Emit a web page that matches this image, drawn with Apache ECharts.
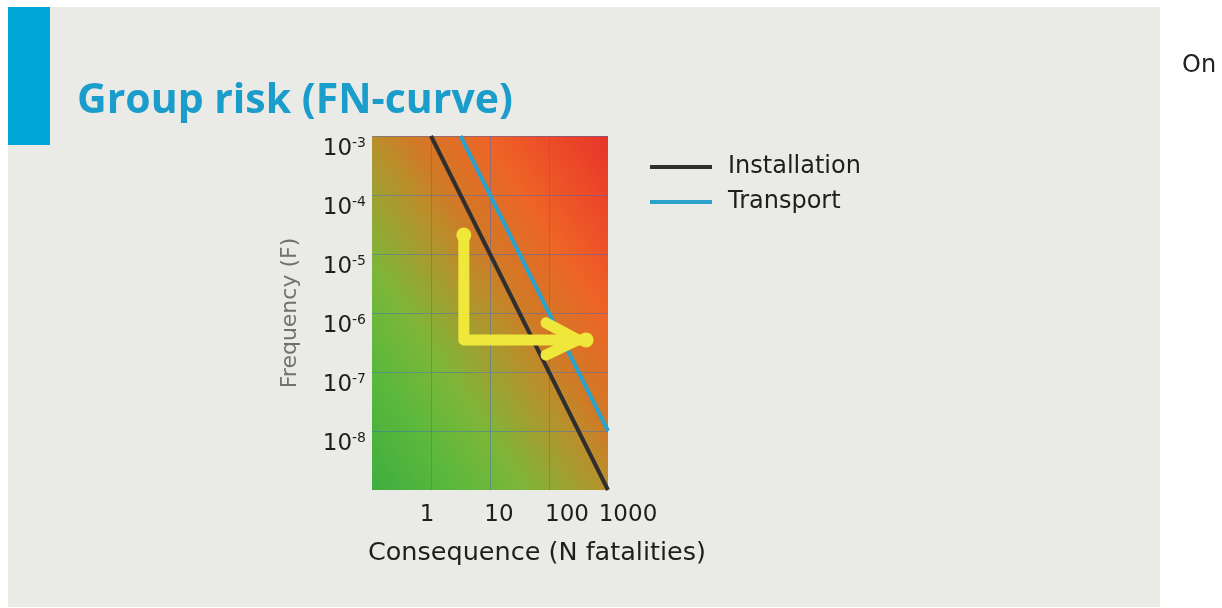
<!DOCTYPE html>
<html>
<head>
<meta charset="utf-8">
<title>Group risk (FN-curve)</title>
<script src="https://cdn.jsdelivr.net/npm/echarts@6/dist/echarts.min.js"></script>
<style>
  html, body { margin: 0; padding: 0; background: #ffffff; }
  #chart { width: 1222px; height: 608px; }
</style>
</head>
<body>
<div id="chart"></div>
<script>
// Consequence ticks (N fatalities) and frequency decades shown on the axes
const consequenceTicks = [1, 10, 100, 1000];
const frequencyExponents = [-3, -4, -5, -6, -7, -8];

// FN-curve for the installation: F = 1e-3 / N^2
const installationN = [1, 10, 100, 1000];
const installationF = [1e-3, 1e-5, 1e-7, 1e-9];

// FN-curve for transport
const transportN = [3.16, 10, 100, 1000];
const transportF = [1e-3, 1e-4, 1e-6, 1e-8];

// Yellow arrow: shaft (down, then right) and head
const arrowShaftN = [3.6, 3.6, 424];
const arrowShaftF = [2.1e-5, 3.5e-7, 3.5e-7];
const arrowHeadN = [89, 309, 89];
const arrowHeadF = [6.8e-7, 3.5e-7, 1.94e-7];
const arrowDotsN = [3.6, 424];
const arrowDotsF = [2.1e-5, 3.5e-7];

const zip = (xs, ys) => xs.map((x, i) => [x, ys[i]]);
const log10 = v => Math.round(Math.log10(v));

const FONT = 'DejaVu Sans';
const YELLOW = '#efe83a';
const GRID_LINE = { show: true, showMinLine: false, showMaxLine: false,
  lineStyle: { color: 'rgba(60,105,205,0.45)', width: 1 } };

const chart = echarts.init(document.getElementById('chart'), null, { renderer: 'canvas' });

chart.setOption({
  animation: false,
  backgroundColor: '#ffffff',
  title: {
    text: 'Group risk (FN-curve)',
    left: 77,
    top: 81,
    padding: 0,
    textStyle: {
      fontFamily: 'Open Sans',
      fontWeight: 'bold',
      fontSize: 41,
      color: '#1b9dcb'
    }
  },
  graphic: [
    {
      type: 'rect', z: -10, silent: true,
      shape: { x: 8, y: 7, width: 1152, height: 600 },
      style: { fill: '#eaeae6' }
    },
    {
      type: 'rect', z: -9, silent: true,
      shape: { x: 8, y: 7, width: 42, height: 138 },
      style: { fill: '#00a6d6' }
    },
    {
      type: 'text', silent: true,
      left: 1182, top: 54,
      style: { text: 'On', fontFamily: FONT, fontSize: 24, fill: '#222222' }
    }
  ],
  legend: {
    data: ['Installation', 'Transport'],
    orient: 'vertical',
    left: 650,
    top: 155,
    padding: 0,
    itemWidth: 62,
    itemHeight: 4,
    itemGap: 11,
    icon: 'rect',
    textStyle: {
      fontFamily: FONT,
      fontSize: 24,
      color: '#1e1e1e',
      padding: [0, 0, 0, 11]
    }
  },
  grid: {
    left: 372,
    right: 614,
    top: 136,
    bottom: 118,
    show: true,
    borderWidth: 0,
    backgroundColor: {
      type: 'linear',
      x: -0.19, y: 0.81, x2: 1.19, y2: 0.19,
      colorStops: [
        { offset: 0.00, color: '#3eae3f' },
        { offset: 0.18, color: '#5cb83c' },
        { offset: 0.32, color: '#7db638' },
        { offset: 0.50, color: '#b8902c' },
        { offset: 0.58, color: '#d07a26' },
        { offset: 0.74, color: '#ee6426' },
        { offset: 0.88, color: '#ec4a28' },
        { offset: 1.00, color: '#e6352a' }
      ]
    }
  },
  xAxis: {
    type: 'log',
    logBase: 10,
    min: 0.1,
    max: 1000,
    splitNumber: 4,
    name: 'Consequence (N fatalities)',
    nameLocation: 'middle',
    nameGap: 50,
    nameMoveOverlap: false,
    nameTextStyle: {
      fontFamily: FONT,
      fontSize: 25.5,
      color: '#1e1e1e',
      padding: [0, 0, 0, 94]
    },
    axisLine: { show: false },
    axisTick: { show: false },
    axisLabel: {
      margin: 14,
      fontFamily: FONT,
      fontSize: 23,
      color: '#1e1e1e',
      formatter: v => {
        const e = log10(v);
        const t = consequenceTicks.find(c => log10(c) === e);
        return t === undefined ? '' : '{x' + e + '|' + t + '}';
      },
      rich: {
        x0: { fontFamily: FONT, fontSize: 23, color: '#1e1e1e', padding: [0, 8, 0, 0] },
        x1: { fontFamily: FONT, fontSize: 23, color: '#1e1e1e', padding: [0, 0, 0, 18] },
        x2: { fontFamily: FONT, fontSize: 23, color: '#1e1e1e', padding: [0, 0, 0, 36] },
        x3: { fontFamily: FONT, fontSize: 23, color: '#1e1e1e', padding: [0, 0, 0, 40] }
      }
    },
    splitLine: GRID_LINE
  },
  yAxis: {
    type: 'log',
    logBase: 10,
    min: 1e-9,
    max: 1e-3,
    splitNumber: 6,
    name: 'Frequency (F)',
    nameLocation: 'middle',
    nameGap: 71,
    nameMoveOverlap: false,
    nameTextStyle: {
      fontFamily: FONT,
      fontSize: 22,
      color: '#707070'
    },
    axisLine: { show: false },
    axisTick: { show: false },
    axisLabel: {
      margin: 6,
      verticalAlign: 'top',
      formatter: v => {
        const e = log10(v);
        return frequencyExponents.includes(e) ? '{b|10}{s|' + e + '}' : '';
      },
      rich: {
        b: { fontFamily: FONT, fontSize: 23, color: '#1e1e1e', padding: [2, 0, 0, 0] },
        s: { fontFamily: FONT, fontSize: 14, color: '#1e1e1e', verticalAlign: 'top', padding: [0, 0, 10, 0] }
      }
    },
    splitLine: GRID_LINE
  },
  series: [
    {
      name: 'Installation',
      type: 'line',
      color: '#2f2f2f',
      data: zip(installationN, installationF),
      showSymbol: false,
      lineStyle: { width: 4, color: '#2f2f2f' },
      z: 3
    },
    {
      name: 'Transport',
      type: 'line',
      color: '#2aa2cc',
      data: zip(transportN, transportF),
      showSymbol: false,
      lineStyle: { width: 4, color: '#2aa2cc' },
      z: 3
    },
    {
      name: 'arrow shaft',
      type: 'line',
      data: zip(arrowShaftN, arrowShaftF),
      showSymbol: false,
      lineStyle: { width: 11, color: YELLOW, cap: 'round', join: 'round' },
      z: 5
    },
    {
      name: 'arrow head',
      type: 'line',
      data: zip(arrowHeadN, arrowHeadF),
      showSymbol: false,
      lineStyle: { width: 11, color: YELLOW, cap: 'round', join: 'round' },
      z: 5
    },
    {
      name: 'arrow ends',
      type: 'scatter',
      data: zip(arrowDotsN, arrowDotsF),
      symbol: 'circle',
      symbolSize: 15,
      itemStyle: { color: YELLOW, opacity: 1 },
      z: 6
    }
  ]
});
</script>
</body>
</html>
